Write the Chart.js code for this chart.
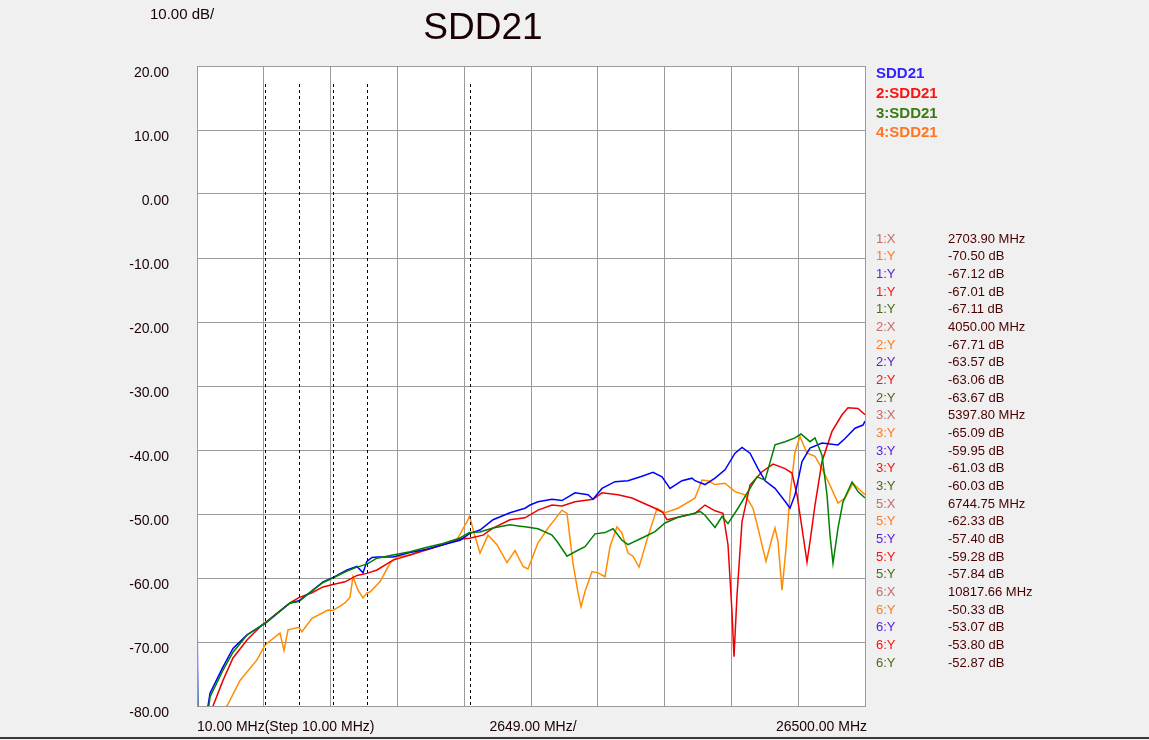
<!DOCTYPE html>
<html>
<head>
<meta charset="utf-8">
<script src="https://cdn.jsdelivr.net/npm/chart.js@4.4.1/dist/chart.umd.min.js"></script>
<style>
  body { margin: 0; background: #f0f0f0; }
  canvas { display: block; }
</style>
</head>
<body>
<canvas id="chart" width="1149" height="740"></canvas>
<script>
// frequencies in MHz, values in dB
const blueFreq = [10, 50, 446, 526, 1041, 1438, 1993, 2627, 2704, 3698, 4050, 4570, 5007, 5398, 5958, 6355, 6593, 6745, 6950, 7188, 7783, 8457, 9131, 9765, 10440, 10818, 11233, 11748, 12422, 13017, 13216, 13533, 14088, 14484, 15000, 15516, 15714, 16071, 16586, 17102, 17657, 18093, 18450, 18767, 19243, 19640, 19759, 20155, 20552, 20948, 21345, 21623, 21940, 22257, 22535, 22931, 23328, 23526, 23724, 24002, 24319, 24795, 25429, 25707, 26104, 26421, 26500];
const blueDb = [-62.3, -86, -80, -78, -73.9, -71, -68.9, -67.3, -67.12, -63.9, -63.57, -62.0, -60.6, -59.95, -58.75, -58.2, -59.2, -57.4, -56.8, -56.7, -56.7, -56.0, -55.5, -54.8, -54.1, -53.07, -52.5, -50.9, -49.8, -49.1, -48.6, -48.1, -47.7, -47.9, -46.7, -47.0, -47.7, -46.0, -44.95, -44.8, -44.1, -43.5, -44.2, -46.0, -44.8, -44.4, -44.8, -45.4, -44.4, -43.1, -40.5, -39.6, -40.5, -42.9, -44.8, -46.0, -48.0, -49.1, -47.0, -41.8, -39.7, -38.9, -39.2, -38.2, -36.6, -36.1, -35.5];

const redFreq = [10, 50, 645, 1041, 1438, 1993, 2627, 2704, 3698, 4050, 4570, 5007, 5398, 5879, 6355, 6745, 7148, 7783, 8457, 9131, 9765, 10440, 10818, 11352, 11748, 12422, 13017, 13533, 14088, 14484, 15000, 15516, 15714, 16071, 16705, 17260, 17657, 18173, 18490, 18648, 19084, 19640, 19759, 20155, 20552, 20869, 21067, 21226, 21305, 21424, 21623, 21940, 22416, 22852, 23328, 23605, 23803, 24002, 24200, 24319, 24517, 24795, 25191, 25588, 25826, 26223, 26500];
const redDb = [-76.5, -86, -80, -76, -72.5, -69.7, -67.2, -67.01, -63.9, -63.06, -62.3, -61.4, -61.03, -60.6, -59.6, -59.28, -58.75, -57.2, -56.4, -55.6, -54.8, -53.9, -53.8, -53.3, -52.2, -50.9, -50.6, -49.4, -48.6, -48.75, -48.1, -47.8, -47.7, -46.7, -47.0, -47.5, -48.2, -49.1, -49.8, -50.9, -50.5, -50.0, -49.9, -48.6, -49.5, -49.9, -54.8, -65.3, -72.3, -62.7, -51.2, -45.5, -43.4, -42.2, -42.9, -43.6, -47.0, -52.2, -57.5, -54.3, -48.6, -41.8, -37.1, -34.5, -33.4, -33.5, -34.5];

const greenFreq = [10, 50, 446, 526, 1041, 1438, 1993, 2627, 2704, 3698, 4050, 4570, 5007, 5398, 5958, 6355, 6745, 7148, 7783, 8457, 9131, 9765, 10440, 10818, 11233, 11748, 12422, 12819, 13017, 13533, 14088, 14326, 14683, 15000, 15397, 15793, 16190, 16507, 16864, 17102, 17657, 18173, 18569, 19084, 19640, 19957, 20155, 20552, 20829, 21067, 21464, 21860, 22217, 22535, 22931, 23328, 23724, 23962, 24319, 24517, 24795, 24993, 25112, 25231, 25429, 25628, 25985, 26223, 26500];
const greenDb = [-70, -86, -81, -78.6, -74.4, -71.6, -68.9, -67.3, -67.11, -63.9, -63.67, -62.0, -60.7, -60.03, -58.9, -58.3, -57.84, -56.9, -56.4, -55.9, -55.2, -54.6, -53.75, -52.87, -52.8, -52.2, -51.7, -51.9, -52.0, -52.3, -53.3, -54.5, -56.6, -55.9, -55.1, -53.1, -52.9, -52.3, -54.1, -54.8, -53.75, -52.75, -51.4, -50.5, -50.0, -49.6, -50.2, -52.1, -50.4, -51.5, -49.1, -46.5, -44.2, -44.7, -39.2, -38.7, -38.1, -37.5, -38.7, -38.1, -40.8, -47.0, -53.3, -57.7, -52.2, -48.1, -45.0, -46.5, -47.5];

const orangeFreq = [10, 1200, 1715, 2389, 2704, 2786, 3301, 3460, 3619, 4050, 4174, 4570, 5205, 5398, 5879, 6078, 6196, 6395, 6593, 6745, 6871, 7267, 7664, 7942, 8457, 8972, 9765, 10321, 10757, 10818, 11034, 11233, 11550, 11907, 12303, 12621, 12938, 13136, 13533, 13929, 14484, 14683, 14921, 15119, 15238, 15397, 15674, 15912, 16190, 16388, 16665, 16864, 17102, 17300, 17538, 17895, 18252, 18569, 19084, 19640, 19759, 19957, 20036, 20274, 20552, 20948, 21345, 21741, 22059, 22257, 22574, 22812, 22931, 23050, 23209, 23367, 23526, 23724, 23922, 24200, 24517, 24795, 25112, 25429, 25707, 26024, 26302, 26500];
const orangeDb = [-82, -80, -76, -72.8, -70.5, -70.2, -68.6, -71.3, -68.1, -67.71, -68.4, -66.3, -65.0, -65.09, -63.9, -63.0, -59.8, -61.9, -63.1, -62.33, -62.2, -60.6, -57.7, -56.7, -56.4, -55.6, -54.8, -54.0, -50.9, -50.33, -53.5, -56.1, -53.3, -54.8, -57.6, -55.7, -58.2, -58.6, -54.5, -52.2, -49.4, -49.9, -57.7, -62.3, -64.5, -62.1, -59.0, -59.2, -59.8, -55.1, -52.0, -53.0, -56.1, -56.6, -58.3, -53.5, -49.1, -49.8, -49.1, -47.8, -47.5, -45.5, -44.7, -44.8, -45.4, -45.2, -46.5, -47.0, -49.1, -52.2, -57.4, -53.8, -52.2, -54.3, -61.9, -55.4, -47.0, -40.3, -37.9, -40.5, -41.0, -42.9, -45.5, -48.3, -47.5, -45.2, -46.25, -47.0];

const seriesNames = ['SDD21', '2:SDD21', '3:SDD21', '4:SDD21'];
const seriesColors = ['#0000ff', '#ee0000', '#008000', '#ff8c00'];
const legendColors = ['#3322ff', '#ff1111', '#3a7a12', '#ff7522'];

const xGridMHz = [10, 2659, 5308, 7957, 10606, 13255, 15904, 18553, 21202, 23851, 26500];
const yTicks = ['20.00', '10.00', '0.00', '-10.00', '-20.00', '-30.00', '-40.00', '-50.00', '-60.00', '-70.00', '-80.00'];
const yTickValues = [20, 10, 0, -10, -20, -30, -40, -50, -60, -70, -80];

const markerFreqs = [2703.90, 4050.00, 5397.80, 6744.75, 10817.66];

// marker readout table: label, label colour key, value
const tableLabels = ['1:X', '1:Y', '1:Y', '1:Y', '1:Y', '2:X', '2:Y', '2:Y', '2:Y', '2:Y', '3:X', '3:Y', '3:Y', '3:Y', '3:Y', '5:X', '5:Y', '5:Y', '5:Y', '5:Y', '6:X', '6:Y', '6:Y', '6:Y', '6:Y'];
const tableValues = ['2703.90 MHz', '-70.50 dB', '-67.12 dB', '-67.01 dB', '-67.11 dB', '4050.00 MHz', '-67.71 dB', '-63.57 dB', '-63.06 dB', '-63.67 dB', '5397.80 MHz', '-65.09 dB', '-59.95 dB', '-61.03 dB', '-60.03 dB', '6744.75 MHz', '-62.33 dB', '-57.40 dB', '-59.28 dB', '-57.84 dB', '10817.66 MHz', '-50.33 dB', '-53.07 dB', '-53.80 dB', '-52.87 dB'];
const tableLabelColors = ['#c46a6a', '#ff7a20', '#5a1ee0', '#ff1010', '#4a6a12'];

const FONT = "'Liberation Sans', Arial, sans-serif";

function pts(fr, db) {
  return fr.map((f, i) => ({ x: f, y: db[i] }));
}

const decorations = {
  id: 'decorations',
  beforeDraw(chart) {
    const { ctx, chartArea: a } = chart;
    ctx.save();
    ctx.fillStyle = '#f0f0f0';
    ctx.fillRect(0, 0, chart.width, chart.height);
    ctx.fillStyle = '#ffffff';
    ctx.fillRect(a.left, a.top, a.right - a.left, a.bottom - a.top);
    ctx.restore();
  },
  afterDatasetsDraw(chart) {
    const { ctx, chartArea: a, scales } = chart;
    ctx.save();
    // marker lines
    ctx.strokeStyle = '#000';
    ctx.lineWidth = 1;
    ctx.setLineDash([3, 3]);
    markerFreqs.forEach(f => {
      const x = Math.round(scales.x.getPixelForValue(f)) + 0.5;
      ctx.beginPath();
      ctx.moveTo(x, a.top + 18);
      ctx.lineTo(x, a.bottom);
      ctx.stroke();
    });
    ctx.setLineDash([]);
    // frame
    ctx.strokeStyle = '#9a9a9a';
    ctx.strokeRect(a.left + 0.5, a.top + 0.5, a.right - a.left, a.bottom - a.top);
    ctx.restore();
  },
  afterDraw(chart) {
    const { ctx, chartArea: a, scales } = chart;
    ctx.save();
    ctx.textBaseline = 'middle';
    // title and scale text
    ctx.fillStyle = '#1a0000';
    ctx.font = '15px ' + FONT;
    ctx.textAlign = 'left';
    ctx.fillText('10.00 dB/', 150, 15);
    ctx.font = '37px ' + FONT;
    ctx.textAlign = 'center';
    ctx.fillText('SDD21', 483, 29);

    // y labels (sit a little below their grid line)
    ctx.font = '14px ' + FONT;
    ctx.textAlign = 'right';
    yTickValues.forEach((v, i) => {
      ctx.fillText(yTicks[i], 169, scales.y.getPixelForValue(v) + 7);
    });

    // x labels
    const xb = a.bottom + 21;
    ctx.textAlign = 'left';
    ctx.fillText('10.00 MHz(Step 10.00 MHz)', a.left, xb);
    ctx.textAlign = 'center';
    ctx.fillText('2649.00 MHz/', (a.left + a.right) / 2 + 2, xb);
    ctx.textAlign = 'right';
    ctx.fillText('26500.00 MHz', a.right + 2, xb);

    // legend
    ctx.font = 'bold 15px ' + FONT;
    ctx.textAlign = 'left';
    seriesNames.forEach((n, i) => {
      ctx.fillStyle = legendColors[i];
      ctx.fillText(n, 876, 74 + i * 19.7);
    });

    // marker table
    ctx.font = '13px ' + FONT;
    tableLabels.forEach((lab, i) => {
      const y = 239 + i * 17.67;
      ctx.fillStyle = tableLabelColors[i % 5];
      ctx.fillText(lab, 876, y);
      ctx.fillStyle = '#4a0000';
      ctx.fillText(tableValues[i], 948, y);
    });

    // bottom edge
    ctx.fillStyle = '#3a3a3a';
    ctx.fillRect(0, 737, chart.width, 2);
    ctx.restore();
  }
};

const chart = new Chart(document.getElementById('chart').getContext('2d'), {
  type: 'line',
  data: {
    datasets: [
      { label: seriesNames[0], data: pts(blueFreq, blueDb), borderColor: seriesColors[0], order: 2 },
      { label: seriesNames[1], data: pts(redFreq, redDb), borderColor: seriesColors[1], order: 3 },
      { label: seriesNames[2], data: pts(greenFreq, greenDb), borderColor: seriesColors[2], order: 1 },
      { label: seriesNames[3], data: pts(orangeFreq, orangeDb), borderColor: seriesColors[3], order: 4 }
    ]
  },
  options: {
    responsive: false,
    devicePixelRatio: 1,
    animation: false,
    elements: {
      line: { borderWidth: 1.5, tension: 0, fill: false },
      point: { radius: 0, hoverRadius: 0 }
    },
    layout: { padding: { left: 197, top: 66, right: 284, bottom: 34 } },
    plugins: { legend: { display: false }, tooltip: { enabled: false }, title: { display: false } },
    scales: {
      x: {
        type: 'linear',
        min: 10,
        max: 26500,
        ticks: { display: false },
        grid: { color: '#9a9a9a', drawTicks: false, tickLength: 0 },
        border: { display: false },
        afterBuildTicks(s) { s.ticks = xGridMHz.map(v => ({ value: v })); },
        afterFit(s) { s.height = 0; }
      },
      y: {
        min: -80,
        max: 20,
        ticks: { display: false, stepSize: 10 },
        grid: { color: '#9a9a9a', drawTicks: false, tickLength: 0 },
        border: { display: false },
        afterFit(s) { s.width = 0; }
      }
    }
  },
  plugins: [decorations]
});
</script>
</body>
</html>
